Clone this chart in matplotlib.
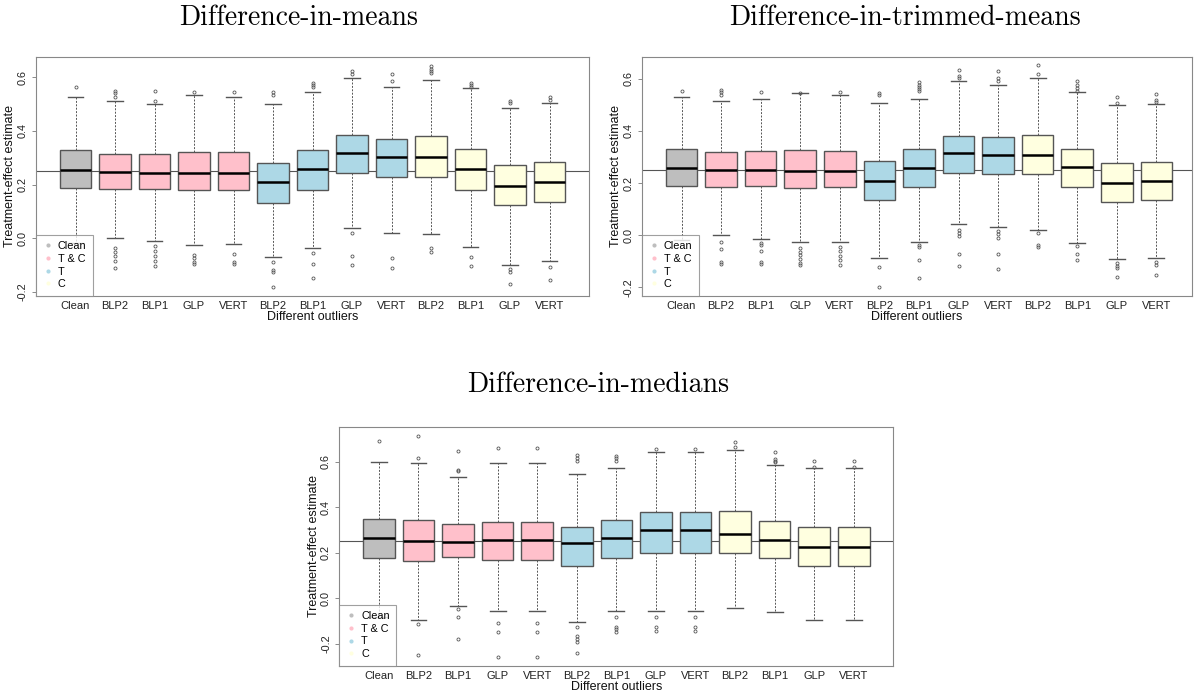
import numpy as np
import matplotlib.pyplot as plt
from matplotlib.lines import Line2D

# etiquetas del eje x y grupos de contaminacion
labels = ["Clean", "BLP2", "BLP1", "GLP", "VERT", "BLP2", "BLP1", "GLP", "VERT",
          "BLP2", "BLP1", "GLP", "VERT"]
groups = ["Clean", "T & C", "T & C", "T & C", "T & C", "T", "T", "T", "T",
          "C", "C", "C", "C"]
group_names = ["Clean", "T & C", "T", "C"]
group_colors = {"Clean": "#BEBEBE", "T & C": "#FFC0CB", "T": "#ADD8E6", "C": "#FFFFE0"}
true_effect = 0.25

# Difference-in-means
means_q1 = [0.186, 0.182, 0.182, 0.178, 0.179, 0.131, 0.181, 0.242, 0.227, 0.229, 0.179, 0.122, 0.134]
means_med = [0.253, 0.245, 0.243, 0.243, 0.243, 0.208, 0.258, 0.316, 0.301, 0.301, 0.258, 0.193, 0.208]
means_q3 = [0.329, 0.315, 0.313, 0.320, 0.322, 0.279, 0.329, 0.384, 0.369, 0.380, 0.332, 0.272, 0.283]
means_lo = [-0.020, 0.000, -0.012, -0.027, -0.022, -0.072, -0.038, 0.037, 0.018, 0.014, -0.034, -0.102, -0.085]
means_hi = [0.525, 0.513, 0.499, 0.534, 0.525, 0.499, 0.544, 0.596, 0.564, 0.589, 0.559, 0.484, 0.503]
means_out = [
    [0.563],
    [0.550, 0.540, 0.528, -0.037, -0.052, -0.067, -0.084, -0.113],
    [0.548, 0.513, -0.031, -0.049, -0.067, -0.087, -0.104],
    [0.544, -0.064, -0.073, -0.089, -0.095],
    [0.546, -0.059, -0.089, -0.097],
    [0.544, 0.536, -0.089, -0.119, -0.126, -0.181],
    [0.580, 0.572, 0.565, -0.056, -0.097, -0.149],
    [0.625, 0.612, 0.018, -0.066, -0.101],
    [0.612, 0.587, -0.075, -0.112],
    [0.643, 0.633, 0.625, 0.615, -0.036, -0.052],
    [0.580, 0.572, 0.565, -0.071, -0.105],
    [0.510, 0.503, -0.116, -0.125, -0.172],
    [0.528, 0.515, -0.107, -0.156],
]

# Difference-in-trimmed-means
trim_q1 = [0.188, 0.183, 0.187, 0.182, 0.184, 0.134, 0.184, 0.238, 0.234, 0.234, 0.184, 0.127, 0.133]
trim_med = [0.258, 0.251, 0.250, 0.247, 0.247, 0.207, 0.256, 0.315, 0.307, 0.308, 0.261, 0.201, 0.207]
trim_q3 = [0.331, 0.319, 0.321, 0.326, 0.324, 0.285, 0.330, 0.380, 0.376, 0.384, 0.330, 0.276, 0.280]
trim_lo = [-0.020, 0.000, -0.014, -0.026, -0.026, -0.088, -0.027, 0.042, 0.031, 0.019, -0.030, -0.092, -0.088]
trim_hi = [0.530, 0.516, 0.522, 0.544, 0.539, 0.507, 0.522, 0.592, 0.577, 0.603, 0.547, 0.500, 0.504]
trim_out = [
    [0.554],
    [0.557, 0.547, 0.539, -0.026, -0.054, -0.102, -0.110],
    [0.547, -0.030, -0.037, -0.060, -0.102, -0.110],
    [0.545, -0.051, -0.064, -0.077, -0.090, -0.105, -0.115],
    [0.547, -0.046, -0.061, -0.079, -0.095, -0.115],
    [0.545, 0.537, -0.120, -0.197],
    [0.587, 0.577, 0.568, 0.560, 0.551, -0.037, -0.046, -0.097, -0.163],
    [0.635, 0.609, 0.601, 0.020, 0.010, -0.003, -0.071, -0.119],
    [0.628, 0.603, 0.590, 0.017, 0.004, -0.009, -0.073, -0.128],
    [0.651, 0.618, 0.010, -0.037, -0.044],
    [0.590, 0.577, 0.565, 0.552, -0.041, -0.072, -0.097],
    [0.530, 0.507, -0.108, -0.117, -0.127, -0.159],
    [0.542, 0.517, 0.509, -0.103, -0.114, -0.152],
]

# Difference-in-medians
med_q1 = [0.175, 0.162, 0.181, 0.166, 0.166, 0.143, 0.178, 0.197, 0.197, 0.197, 0.175, 0.140, 0.140]
med_med = [0.264, 0.253, 0.245, 0.254, 0.254, 0.244, 0.263, 0.300, 0.300, 0.284, 0.255, 0.225, 0.225]
med_q3 = [0.349, 0.342, 0.327, 0.336, 0.336, 0.311, 0.344, 0.377, 0.377, 0.382, 0.339, 0.313, 0.313]
med_lo = [-0.084, -0.095, -0.036, -0.058, -0.058, -0.105, -0.058, -0.058, -0.058, -0.045, -0.062, -0.097, -0.097]
med_hi = [0.600, 0.593, 0.534, 0.596, 0.596, 0.544, 0.574, 0.641, 0.641, 0.651, 0.585, 0.571, 0.571]
med_out = [
    [0.689],
    [0.713, 0.615, -0.115, -0.251],
    [0.645, 0.563, 0.559, -0.049, -0.084, -0.179],
    [0.659, -0.111, -0.150, -0.259],
    [0.659, -0.111, -0.150, -0.259],
    [0.628, 0.618, 0.604, -0.125, -0.165, -0.179, -0.191, -0.242],
    [0.625, 0.615, 0.604, -0.081, -0.128, -0.135, -0.149],
    [0.656, -0.081, -0.125, -0.146],
    [0.656, -0.081, -0.125, -0.146],
    [0.685, 0.666],
    [0.644, 0.612, 0.604, 0.597],
    [0.604, 0.578],
    [0.604, 0.578],
]


def boxpanel(ax, q1, med, q3, lo, hi, out, ylim, xmax=14):
    stats = []
    for i in range(len(labels)):
        stats.append(dict(q1=q1[i], med=med[i], q3=q3[i], whislo=lo[i], whishi=hi[i],
                          fliers=out[i], label=labels[i]))
    bp = ax.bxp(stats, positions=np.arange(1, len(labels) + 1), widths=0.8,
                patch_artist=True, showfliers=True,
                boxprops=dict(edgecolor="#555555", linewidth=1.0),
                medianprops=dict(color="black", linewidth=1.8),
                whiskerprops=dict(color="#555555", linestyle=(0, (2, 1.5)), linewidth=0.7),
                capprops=dict(color="#555555", linewidth=1.0),
                flierprops=dict(marker="o", markersize=2.2, markerfacecolor="none",
                                markeredgecolor="#555555", markeredgewidth=0.6))
    for patch, g in zip(bp["boxes"], groups):
        patch.set_facecolor(group_colors[g])
    ax.axhline(true_effect, color="#555555", linewidth=0.8, zorder=0.5)
    ax.set_xlim(0, xmax)
    ax.set_ylim(*ylim)
    ax.set_yticks([-0.2, 0.0, 0.2, 0.4, 0.6])
    ax.set_yticklabels(["-0.2", "0.0", "0.2", "0.4", "0.6"], rotation=90, va="center",
                       fontsize=7.8, color="#222222")
    ax.tick_params(axis="x", length=0, labelsize=8, pad=4, labelcolor="#222222")
    ax.tick_params(axis="y", length=3, width=0.6, color="#777777", pad=3)
    for s in ax.spines.values():
        s.set_color("#888888")
        s.set_linewidth(0.8)
    ax.set_xlabel("Different outliers", fontsize=9, labelpad=0, color="#111111")
    ax.set_ylabel("Treatment-effect estimate", fontsize=9, labelpad=1, color="#111111")
    handles = [Line2D([], [], linestyle="none", marker="o", markersize=3,
                      markerfacecolor=group_colors[g], markeredgecolor="none")
               for g in group_names]
    leg = ax.legend(handles, group_names, loc="lower left", borderaxespad=0, fontsize=7.8,
                    frameon=True, fancybox=False, handlelength=1.0, handletextpad=0.4,
                    labelspacing=0.25, borderpad=0.6)
    leg.get_frame().set_edgecolor("#888888")
    leg.get_frame().set_linewidth(0.8)
    leg.set_zorder(10)


plt.rcParams["font.family"] = ["Liberation Sans", "DejaVu Sans"]
fig = plt.figure(figsize=(11.97, 6.95), dpi=100)

ax1 = fig.add_axes([0.0301, 0.5745, 0.4620, 0.3435])
ax2 = fig.add_axes([0.5363, 0.5745, 0.4595, 0.3435])
ax3 = fig.add_axes([0.2835, 0.0422, 0.4628, 0.3430])

boxpanel(ax1, means_q1, means_med, means_q3, means_lo, means_hi, means_out, (-0.215, 0.676))
boxpanel(ax2, trim_q1, trim_med, trim_q3, trim_lo, trim_hi, trim_out, (-0.232, 0.683), xmax=13.9)
boxpanel(ax3, med_q1, med_med, med_q3, med_lo, med_hi, med_out, (-0.297, 0.751))

fig.text(299 / 1197, 1 - 18 / 695, "Difference-in-means", family="cmr10", fontsize=20,
         ha="center", va="center")
fig.text(905 / 1197, 1 - 18 / 695, "Difference-in-trimmed-means", family="cmr10", fontsize=20,
         ha="center", va="center")
fig.text(598 / 1197, 1 - 385 / 695, "Difference-in-medians", family="cmr10", fontsize=20,
         ha="center", va="center")

fig.savefig("out.png", dpi=100)
